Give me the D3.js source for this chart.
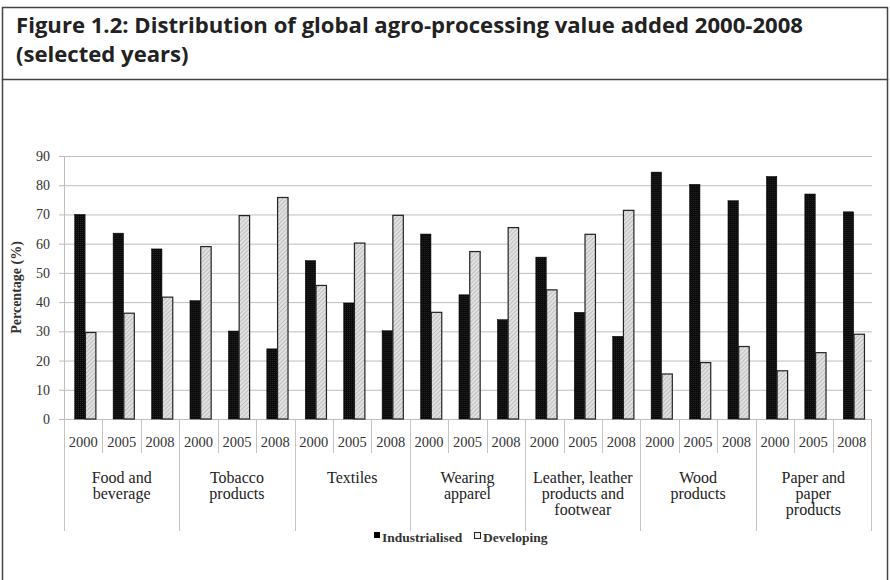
<!DOCTYPE html>
<html>
<head>
<meta charset="utf-8">
<script src="https://cdn.jsdelivr.net/npm/d3@7"></script>
<style>
  html, body { margin: 0; padding: 0; background: #fff; }
  svg { display: block; }
</style>
</head>
<body>
<svg id="chart" width="890" height="580"></svg>
<script>
// ---------------- DATA ----------------
const categories = [
  ["Food and", "beverage"],
  ["Tobacco", "products"],
  ["Textiles"],
  ["Wearing", "apparel"],
  ["Leather, leather", "products and", "footwear"],
  ["Wood", "products"],
  ["Paper and", "paper", "products"]
];
const years = ["2000", "2005", "2008"];
const industrialised = [
  70.0, 63.6, 58.2,
  40.5, 30.1, 24.0,
  54.2, 39.7, 30.2,
  63.3, 42.5, 34.0,
  55.4, 36.5, 28.3,
  84.5, 80.3, 74.7,
  83.0, 77.0, 70.9
];
const developing = [
  29.6, 36.2, 41.7,
  59.0, 69.6, 75.8,
  45.7, 60.2, 69.7,
  36.5, 57.3, 65.5,
  44.2, 63.2, 71.4,
  15.4, 19.3, 24.8,
  16.5, 22.7, 29.0
];
const yTicks = [0, 10, 20, 30, 40, 50, 60, 70, 80, 90];
const seriesNames = ["Industrialised", "Developing"];
const titleLines = ["Figure 1.2: Distribution of global agro-processing value added 2000-2008", "(selected years)"];
const yAxisTitle = "Percentage (%)";

// ---------------- LAYOUT ----------------
const svg = d3.select("#chart");
const W = 890, H = 580;
const plot = { left: 64, right: 871, top: 156, bottom: 419 };
const serif = "Liberation Serif, Times New Roman, serif";

// patterns
const defs = svg.append("defs");
const hatch = defs.append("pattern")
  .attr("id", "hatch").attr("patternUnits", "userSpaceOnUse")
  .attr("width", 3).attr("height", 3)
  .attr("patternTransform", "rotate(45)");
hatch.append("rect").attr("width", 3).attr("height", 3).attr("fill", "#e2e2e2");
hatch.append("line").attr("x1", 0).attr("y1", 0).attr("x2", 0).attr("y2", 3)
  .attr("stroke", "#9a9a9a").attr("stroke-width", 1);
const dots = defs.append("pattern")
  .attr("id", "dots").attr("patternUnits", "userSpaceOnUse")
  .attr("width", 2).attr("height", 2);
dots.append("rect").attr("width", 2).attr("height", 2).attr("fill", "#0a0a0a");
dots.append("rect").attr("width", 1).attr("height", 1).attr("fill", "#262626");

// frames
svg.append("rect").attr("x", 2.5).attr("y", 7.5).attr("width", 885).attr("height", 72)
  .attr("fill", "none").attr("stroke", "#444").attr("stroke-width", 1.5);
svg.append("line").attr("x1", 2.5).attr("x2", 2.5).attr("y1", 79).attr("y2", H + 2)
  .attr("stroke", "#444").attr("stroke-width", 1.5);
svg.append("line").attr("x1", 887.5).attr("x2", 887.5).attr("y1", 79).attr("y2", H + 2)
  .attr("stroke", "#444").attr("stroke-width", 1.5);

// title
const tfont = "'Open Sans', 'Noto Sans', sans-serif";
const t1 = svg.append("text").attr("x", 16).attr("y", 33)
  .attr("font-family", tfont).attr("font-weight", 700)
  .attr("font-size", 22).attr("fill", "#222").text(titleLines[0]);
const t2 = svg.append("text").attr("x", 16).attr("y", 62)
  .attr("font-family", tfont).attr("font-weight", 700)
  .attr("font-size", 22).attr("fill", "#222").text(titleLines[1]);
const nat1 = t1.node().getComputedTextLength();
const ratio = 787 / nat1;
t1.attr("textLength", 787).attr("lengthAdjust", "spacingAndGlyphs");
t2.attr("textLength", t2.node().getComputedTextLength() * ratio).attr("lengthAdjust", "spacingAndGlyphs");

// scales
const keys = d3.range(industrialised.length);
const x0 = d3.scaleBand().domain(keys).range([plot.left, plot.right]).paddingInner(0).paddingOuter(0);
const x1 = d3.scaleBand().domain(seriesNames).range([0, x0.bandwidth()])
  .paddingInner(0.03).paddingOuter(0.8).align(0.62);
const y = d3.scaleLinear().domain([0, 90]).range([plot.bottom, plot.top]);

// gridlines
const yAxis = d3.axisLeft(y).tickValues(yTicks).tickSize(-(plot.right - plot.left + 1)).tickPadding(10).tickFormat(d3.format("d"));
const gy = svg.append("g").attr("transform", `translate(${plot.left},0)`).call(yAxis);
gy.select(".domain").remove();
gy.selectAll(".tick line").attr("stroke", "#bdbdbd").attr("stroke-width", 1).attr("x1", -5);
gy.selectAll(".tick text").attr("font-family", serif).attr("font-size", 14).attr("fill", "#333").attr("x", -14);
// left axis line
svg.append("line").attr("x1", plot.left + 0.5).attr("x2", plot.left + 0.5)
  .attr("y1", plot.top).attr("y2", plot.bottom).attr("stroke", "#bdbdbd");

// y-axis title
svg.append("text")
  .attr("transform", `translate(21,${(plot.top + plot.bottom) / 2}) rotate(-90)`)
  .attr("text-anchor", "middle").attr("font-family", serif).attr("font-weight", "bold")
  .attr("font-size", 14).attr("fill", "#333").text(yAxisTitle);

// bars
const rows = keys.map(i => ({ i, vals: [industrialised[i], developing[i]] }));
const groups = svg.append("g").selectAll("g").data(rows).join("g")
  .attr("transform", d => `translate(${x0(d.i)},0)`);
groups.selectAll("rect").data(d => d.vals.map((v, k) => ({ k, v }))).join("rect")
  .attr("x", d => x1(seriesNames[d.k]))
  .attr("width", x1.bandwidth())
  .attr("y", d => y(d.v))
  .attr("height", d => y(0) - y(d.v))
  .attr("fill", d => d.k === 0 ? "url(#dots)" : "url(#hatch)")
  .attr("stroke", d => d.k === 0 ? "#000" : "#222")
  .attr("stroke-width", d => d.k === 0 ? 0.5 : 1.2);

// x-axis: year labels + separators
const xa = svg.append("g");
keys.forEach(i => {
  const xl = x0(i);
  const isCat = i % 3 === 0;
  xa.append("line").attr("x1", Math.round(xl) + 0.5).attr("x2", Math.round(xl) + 0.5)
    .attr("y1", plot.bottom).attr("y2", isCat ? 531 : 453)
    .attr("stroke", "#c4c4c4").attr("stroke-width", 1);
  xa.append("text").attr("x", xl + x0.bandwidth() / 2).attr("y", 447)
    .attr("text-anchor", "middle").attr("font-family", serif).attr("font-size", 14.5)
    .attr("fill", "#333").text(years[i % 3]);
});
xa.append("line").attr("x1", plot.right + 0.5).attr("x2", plot.right + 0.5)
  .attr("y1", plot.bottom).attr("y2", 531).attr("stroke", "#c4c4c4");

// category labels
categories.forEach((lines, c) => {
  const cx = x0(c * 3) + x0.bandwidth() * 1.5;
  const t = xa.append("text").attr("text-anchor", "middle").attr("font-family", serif)
    .attr("font-size", 16).attr("fill", "#222");
  lines.forEach((ln, j) => {
    t.append("tspan").attr("x", cx).attr("y", 483 + j * 16).text(ln);
  });
});

// legend
const lg = svg.append("g").attr("font-family", serif).attr("font-weight", "bold").attr("font-size", 13.5).attr("fill", "#333");
lg.append("rect").attr("x", 374).attr("y", 532).attr("width", 6).attr("height", 6).attr("fill", "#000");
lg.append("text").attr("x", 382).attr("y", 542).text(seriesNames[0]);
lg.append("rect").attr("x", 474.5).attr("y", 532.5).attr("width", 6).attr("height", 6)
  .attr("fill", "#eee").attr("stroke", "#222").attr("stroke-width", 1);
lg.append("text").attr("x", 483).attr("y", 542).text(seriesNames[1]);
</script>
</body>
</html>
